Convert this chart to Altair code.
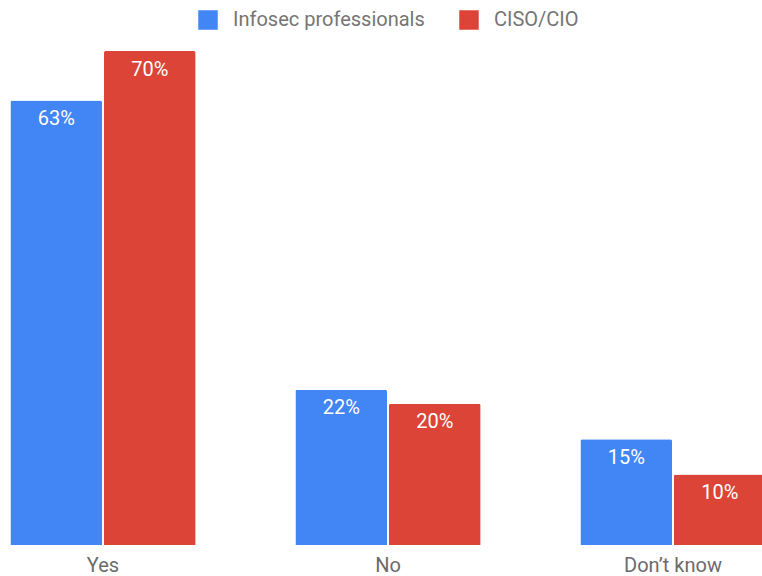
import altair as alt
import pandas as pd

categories = ["Yes", "No", "Don\u2019t know"]
series = ["Infosec professionals", "CISO/CIO"]
infosec_values = [63, 22, 15]
ciso_values = [70, 20, 10]
colors = ["#4285F4", "#DB4437"]

rows = []
for c, a, b in zip(categories, infosec_values, ciso_values):
    rows.append({"category": c, "series": series[0], "value": a, "label": f"{a}%"})
    rows.append({"category": c, "series": series[1], "value": b, "label": f"{b}%"})
df = pd.DataFrame(rows)

FONT = "Roboto"

x = alt.X("category:N", sort=categories, title=None,
          scale=alt.Scale(range=[-39.5, 815.5], paddingInner=0.35, paddingOuter=0.175),
          axis=alt.Axis(labelAngle=0, ticks=False, domain=False, labelFontSize=20,
                        labelColor="#6b6b6b", labelFont=FONT, labelPadding=10))
xo = alt.XOffset("series:N", sort=series, scale=alt.Scale(paddingInner=0.02, paddingOuter=0))
y = alt.Y("value:Q", axis=None, scale=alt.Scale(domain=[0, 70], nice=False, zero=True))

bars = alt.Chart(df).mark_bar(cornerRadiusTopLeft=2, cornerRadiusTopRight=2).encode(
    x=x, xOffset=xo, y=y,
    color=alt.Color("series:N", sort=series,
                    scale=alt.Scale(domain=series, range=colors),
                    legend=alt.Legend(title=None, orient="none", direction="horizontal",
                                      legendX=198, legendY=-41, symbolType="square",
                                      symbolSize=380, symbolStrokeWidth=0, symbolOpacity=1,
                                      labelFontSize=20, labelFont=FONT, labelColor="#757575",
                                      labelOffset=15, columnPadding=34, labelLimit=400)),
)

labels = alt.Chart(df).mark_text(color="white", fontSize=20, font=FONT,
                                 baseline="middle", dy=18.5).encode(
    x=x, xOffset=xo, y=y, text="label:N"
)

chart = (bars + labels).properties(
    width=762, height=494,
    autosize=alt.AutoSizeParams(type="none"),
    padding={"left": 0, "top": 51, "right": 0, "bottom": 31},
).configure_view(stroke=None)

chart.save("out.html", embed_options={"renderer": "svg", "actions": False})
